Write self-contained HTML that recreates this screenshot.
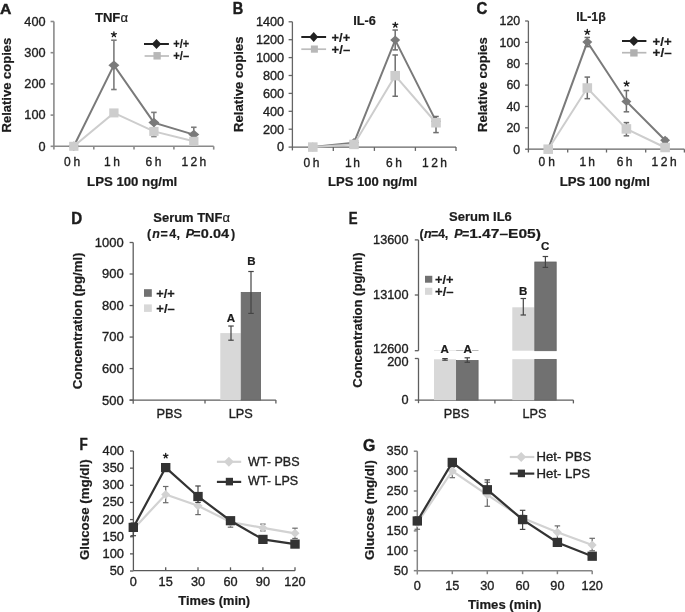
<!DOCTYPE html>
<html><head><meta charset="utf-8"><title>Figure</title>
<style>
html,body{margin:0;padding:0;background:#fff;}
body{width:685px;height:612px;overflow:hidden;}
svg{display:block;will-change:transform;filter:blur(0.6px);font-family:"Liberation Sans", sans-serif;}
</style></head>
<body>
<svg width="685" height="612" viewBox="0 0 685 612">
<rect x="0" y="0" width="685" height="612" fill="#ffffff"/>
<text x="0.1" y="13.7" font-size="15.5" font-weight="bold" fill="#1c1c1c" stroke="#1c1c1c" stroke-width="0.45" textLength="11.4" lengthAdjust="spacingAndGlyphs">A</text>
<line x1="53.9" y1="21.5" x2="53.9" y2="149.6" stroke="#8a8a8a" stroke-width="1.6"/>
<line x1="53.9" y1="146.3" x2="213.7" y2="146.3" stroke="#8a8a8a" stroke-width="1.6"/>
<line x1="93.8" y1="146.3" x2="93.8" y2="149.6" stroke="#8a8a8a" stroke-width="1.6"/>
<line x1="134" y1="146.3" x2="134" y2="149.6" stroke="#8a8a8a" stroke-width="1.6"/>
<line x1="173.9" y1="146.3" x2="173.9" y2="149.6" stroke="#8a8a8a" stroke-width="1.6"/>
<line x1="213.7" y1="146.3" x2="213.7" y2="149.6" stroke="#8a8a8a" stroke-width="1.6"/>
<line x1="50.6" y1="146.3" x2="53.9" y2="146.3" stroke="#8a8a8a" stroke-width="1.6"/>
<text x="38.53" y="150.6" font-size="12" fill="#1e1e1e" stroke="#1e1e1e" stroke-width="0.33" textLength="7.07" lengthAdjust="spacingAndGlyphs">0</text>
<line x1="50.6" y1="115.1" x2="53.9" y2="115.1" stroke="#8a8a8a" stroke-width="1.6"/>
<text x="24.38" y="119.4" font-size="12" fill="#1e1e1e" stroke="#1e1e1e" stroke-width="0.33" textLength="21.22" lengthAdjust="spacingAndGlyphs">100</text>
<line x1="50.6" y1="83.9" x2="53.9" y2="83.9" stroke="#8a8a8a" stroke-width="1.6"/>
<text x="24.38" y="88.2" font-size="12" fill="#1e1e1e" stroke="#1e1e1e" stroke-width="0.33" textLength="21.22" lengthAdjust="spacingAndGlyphs">200</text>
<line x1="50.6" y1="52.7" x2="53.9" y2="52.7" stroke="#8a8a8a" stroke-width="1.6"/>
<text x="24.38" y="57" font-size="12" fill="#1e1e1e" stroke="#1e1e1e" stroke-width="0.33" textLength="21.22" lengthAdjust="spacingAndGlyphs">300</text>
<line x1="50.6" y1="21.5" x2="53.9" y2="21.5" stroke="#8a8a8a" stroke-width="1.6"/>
<text x="24.38" y="25.8" font-size="12" fill="#1e1e1e" stroke="#1e1e1e" stroke-width="0.33" textLength="21.22" lengthAdjust="spacingAndGlyphs">400</text>
<text x="64.1" y="166" font-size="12" fill="#1e1e1e" stroke="#1e1e1e" stroke-width="0.33" textLength="16" lengthAdjust="spacing">0h</text>
<text x="104" y="166" font-size="12" fill="#1e1e1e" stroke="#1e1e1e" stroke-width="0.33" textLength="16" lengthAdjust="spacing">1h</text>
<text x="145.5" y="166" font-size="12" fill="#1e1e1e" stroke="#1e1e1e" stroke-width="0.33" textLength="16" lengthAdjust="spacing">6h</text>
<text x="181.6" y="166" font-size="12" fill="#1e1e1e" stroke="#1e1e1e" stroke-width="0.33" textLength="24.5" lengthAdjust="spacing">12h</text>
<text x="87.1" y="186.1" font-size="12" font-weight="bold" fill="#1c1c1c" stroke="#1c1c1c" stroke-width="0.2" textLength="90.2" lengthAdjust="spacingAndGlyphs">LPS 100 ng/ml</text>
<text transform="translate(10.7,132.5) rotate(-90)" x="0" y="0" font-size="12" font-weight="bold" fill="#1c1c1c" stroke="#1c1c1c" stroke-width="0.2" textLength="94.8" lengthAdjust="spacingAndGlyphs">Relative copies</text>
<text x="94.9" y="21.6" font-size="12.5" font-weight="bold" fill="#1c1c1c" stroke="#1c1c1c" stroke-width="0.2" textLength="33.1" lengthAdjust="spacingAndGlyphs">TNF<tspan font-weight="normal">α</tspan></text>
<line x1="113.9" y1="89.52" x2="113.9" y2="40.22" stroke="#7c7c7c" stroke-width="1.6"/>
<line x1="111.15" y1="89.52" x2="116.65" y2="89.52" stroke="#7c7c7c" stroke-width="1.6"/>
<line x1="111.15" y1="40.22" x2="116.65" y2="40.22" stroke="#7c7c7c" stroke-width="1.6"/>
<line x1="153.9" y1="132.26" x2="153.9" y2="112.39" stroke="#7c7c7c" stroke-width="1.6"/>
<line x1="151.15" y1="132.26" x2="156.65" y2="132.26" stroke="#7c7c7c" stroke-width="1.6"/>
<line x1="151.15" y1="112.39" x2="156.65" y2="112.39" stroke="#7c7c7c" stroke-width="1.6"/>
<line x1="193.8" y1="142.56" x2="193.8" y2="127.27" stroke="#7c7c7c" stroke-width="1.6"/>
<line x1="191.05" y1="142.56" x2="196.55" y2="142.56" stroke="#7c7c7c" stroke-width="1.6"/>
<line x1="191.05" y1="127.27" x2="196.55" y2="127.27" stroke="#7c7c7c" stroke-width="1.6"/>
<polyline points="73.8,146.3 113.9,65.18 153.9,122.59 193.8,134.6" fill="none" stroke="#7a7a7a" stroke-width="2" stroke-linejoin="miter"/>
<polygon points="68.3,146.3 73.8,141.55 79.3,146.3 73.8,151.05" fill="#7a7a7a"/>
<polygon points="108.4,65.18 113.9,60.43 119.4,65.18 113.9,69.93" fill="#7a7a7a"/>
<polygon points="148.4,122.59 153.9,117.84 159.4,122.59 153.9,127.34" fill="#7a7a7a"/>
<polygon points="188.3,134.6 193.8,129.85 199.3,134.6 193.8,139.35" fill="#7a7a7a"/>
<line x1="113.9" y1="115.1" x2="113.9" y2="111.36" stroke="#8c8c8c" stroke-width="1.4"/>
<line x1="111.15" y1="115.1" x2="116.65" y2="115.1" stroke="#8c8c8c" stroke-width="1.4"/>
<line x1="111.15" y1="111.36" x2="116.65" y2="111.36" stroke="#8c8c8c" stroke-width="1.4"/>
<line x1="153.9" y1="136.69" x2="153.9" y2="130.7" stroke="#8c8c8c" stroke-width="1.4"/>
<line x1="151.15" y1="136.69" x2="156.65" y2="136.69" stroke="#8c8c8c" stroke-width="1.4"/>
<line x1="151.15" y1="130.7" x2="156.65" y2="130.7" stroke="#8c8c8c" stroke-width="1.4"/>
<line x1="193.8" y1="143.18" x2="193.8" y2="140.68" stroke="#8c8c8c" stroke-width="1.4"/>
<line x1="191.05" y1="143.18" x2="196.55" y2="143.18" stroke="#8c8c8c" stroke-width="1.4"/>
<line x1="191.05" y1="140.68" x2="196.55" y2="140.68" stroke="#8c8c8c" stroke-width="1.4"/>
<polyline points="73.8,146.3 113.9,112.92 153.9,131.39 193.8,141.31" fill="none" stroke="#cdcdcd" stroke-width="2" stroke-linejoin="miter"/>
<rect x="69.15" y="141.8" width="9.3" height="9" fill="#cdcdcd"/>
<rect x="109.25" y="108.42" width="9.3" height="9" fill="#cdcdcd"/>
<rect x="149.25" y="126.89" width="9.3" height="9" fill="#cdcdcd"/>
<rect x="189.15" y="136.81" width="9.3" height="9" fill="#cdcdcd"/>
<path d="M113.9,34.5L113.9,31.9M113.9,34.5L116.37,33.7M113.9,34.5L115.43,36.6M113.9,34.5L112.37,36.6M113.9,34.5L111.43,33.7" stroke="#1c1c1c" stroke-width="1.35" stroke-linecap="round" fill="none"/>
<line x1="144" y1="44" x2="168.9" y2="44" stroke="#222" stroke-width="2"/>
<polygon points="151.75,44 156.5,39 161.25,44 156.5,49" fill="#222"/>
<line x1="144.6" y1="56" x2="169" y2="56" stroke="#bdbdbd" stroke-width="1.7"/>
<rect x="153.45" y="52.05" width="7.3" height="7.5" fill="#b8b8b8"/>
<text x="173.3" y="47.5" font-size="12.5" font-weight="bold" fill="#1c1c1c" stroke="#1c1c1c" stroke-width="0.2" textLength="15.9" lengthAdjust="spacingAndGlyphs">+/+</text>
<text x="173.3" y="59.5" font-size="12.5" font-weight="bold" fill="#1c1c1c" stroke="#1c1c1c" stroke-width="0.2" textLength="15.9" lengthAdjust="spacingAndGlyphs">+/–</text>
<text x="232.8" y="13.8" font-size="16" font-weight="bold" fill="#1c1c1c" stroke="#1c1c1c" stroke-width="0.45" textLength="10.5" lengthAdjust="spacingAndGlyphs">B</text>
<line x1="292.4" y1="21.8" x2="292.4" y2="150.4" stroke="#656565" stroke-width="1.3"/>
<line x1="292.4" y1="147.1" x2="456" y2="147.1" stroke="#656565" stroke-width="1.3"/>
<line x1="333.3" y1="147.1" x2="333.3" y2="150.9" stroke="#656565" stroke-width="1.3"/>
<line x1="374.4" y1="147.1" x2="374.4" y2="150.9" stroke="#656565" stroke-width="1.3"/>
<line x1="415.4" y1="147.1" x2="415.4" y2="150.9" stroke="#656565" stroke-width="1.3"/>
<line x1="456" y1="147.1" x2="456" y2="150.9" stroke="#656565" stroke-width="1.3"/>
<line x1="288.6" y1="147.1" x2="292.4" y2="147.1" stroke="#656565" stroke-width="1.3"/>
<text x="277.13" y="151.4" font-size="12" fill="#1e1e1e" stroke="#1e1e1e" stroke-width="0.33" textLength="7.07" lengthAdjust="spacingAndGlyphs">0</text>
<line x1="288.6" y1="129.2" x2="292.4" y2="129.2" stroke="#656565" stroke-width="1.3"/>
<text x="262.98" y="133.5" font-size="12" fill="#1e1e1e" stroke="#1e1e1e" stroke-width="0.33" textLength="21.22" lengthAdjust="spacingAndGlyphs">200</text>
<line x1="288.6" y1="111.3" x2="292.4" y2="111.3" stroke="#656565" stroke-width="1.3"/>
<text x="262.98" y="115.6" font-size="12" fill="#1e1e1e" stroke="#1e1e1e" stroke-width="0.33" textLength="21.22" lengthAdjust="spacingAndGlyphs">400</text>
<line x1="288.6" y1="93.4" x2="292.4" y2="93.4" stroke="#656565" stroke-width="1.3"/>
<text x="262.98" y="97.7" font-size="12" fill="#1e1e1e" stroke="#1e1e1e" stroke-width="0.33" textLength="21.22" lengthAdjust="spacingAndGlyphs">600</text>
<line x1="288.6" y1="75.5" x2="292.4" y2="75.5" stroke="#656565" stroke-width="1.3"/>
<text x="262.98" y="79.8" font-size="12" fill="#1e1e1e" stroke="#1e1e1e" stroke-width="0.33" textLength="21.22" lengthAdjust="spacingAndGlyphs">800</text>
<line x1="288.6" y1="57.6" x2="292.4" y2="57.6" stroke="#656565" stroke-width="1.3"/>
<text x="255.91" y="61.9" font-size="12" fill="#1e1e1e" stroke="#1e1e1e" stroke-width="0.33" textLength="28.29" lengthAdjust="spacingAndGlyphs">1000</text>
<line x1="288.6" y1="39.7" x2="292.4" y2="39.7" stroke="#656565" stroke-width="1.3"/>
<text x="255.91" y="44" font-size="12" fill="#1e1e1e" stroke="#1e1e1e" stroke-width="0.33" textLength="28.29" lengthAdjust="spacingAndGlyphs">1200</text>
<line x1="288.6" y1="21.8" x2="292.4" y2="21.8" stroke="#656565" stroke-width="1.3"/>
<text x="255.91" y="26.1" font-size="12" fill="#1e1e1e" stroke="#1e1e1e" stroke-width="0.33" textLength="28.29" lengthAdjust="spacingAndGlyphs">1400</text>
<text x="303.5" y="166.7" font-size="12" fill="#1e1e1e" stroke="#1e1e1e" stroke-width="0.33" textLength="16" lengthAdjust="spacing">0h</text>
<text x="345" y="166.7" font-size="12" fill="#1e1e1e" stroke="#1e1e1e" stroke-width="0.33" textLength="15" lengthAdjust="spacing">1h</text>
<text x="386" y="166.7" font-size="12" fill="#1e1e1e" stroke="#1e1e1e" stroke-width="0.33" textLength="16" lengthAdjust="spacing">6h</text>
<text x="422" y="166.7" font-size="12" fill="#1e1e1e" stroke="#1e1e1e" stroke-width="0.33" textLength="25" lengthAdjust="spacing">12h</text>
<text x="328" y="186.4" font-size="12" font-weight="bold" fill="#1c1c1c" stroke="#1c1c1c" stroke-width="0.2" textLength="89.2" lengthAdjust="spacingAndGlyphs">LPS 100 ng/ml</text>
<text transform="translate(242.5,131.9) rotate(-90)" x="0" y="0" font-size="12" font-weight="bold" fill="#1c1c1c" stroke="#1c1c1c" stroke-width="0.2" textLength="95.5" lengthAdjust="spacingAndGlyphs">Relative copies</text>
<text x="353.2" y="24.6" font-size="12.5" font-weight="bold" fill="#1c1c1c" stroke="#1c1c1c" stroke-width="0.2" textLength="22.7" lengthAdjust="spacingAndGlyphs">IL-6</text>
<line x1="395.2" y1="49.9" x2="395.2" y2="30.03" stroke="#6e6e6e" stroke-width="1.5"/>
<line x1="392.45" y1="49.9" x2="397.95" y2="49.9" stroke="#6e6e6e" stroke-width="1.5"/>
<line x1="392.45" y1="30.03" x2="397.95" y2="30.03" stroke="#6e6e6e" stroke-width="1.5"/>
<polyline points="312.8,147.1 354,142.62 395.2,40.06 436,121.14" fill="none" stroke="#7a7a7a" stroke-width="2" stroke-linejoin="miter"/>
<polygon points="307.8,147.1 312.8,142.6 317.8,147.1 312.8,151.6" fill="#7a7a7a"/>
<polygon points="349,142.62 354,138.12 359,142.62 354,147.12" fill="#7a7a7a"/>
<polygon points="390.2,40.06 395.2,35.56 400.2,40.06 395.2,44.56" fill="#7a7a7a"/>
<polygon points="431,121.14 436,116.64 441,121.14 436,125.64" fill="#7a7a7a"/>
<line x1="395.2" y1="96.26" x2="395.2" y2="55" stroke="#6e6e6e" stroke-width="1.5"/>
<line x1="392.45" y1="96.26" x2="397.95" y2="96.26" stroke="#6e6e6e" stroke-width="1.5"/>
<line x1="392.45" y1="55" x2="397.95" y2="55" stroke="#6e6e6e" stroke-width="1.5"/>
<line x1="436" y1="132.6" x2="436" y2="116.49" stroke="#6e6e6e" stroke-width="1.5"/>
<line x1="433.25" y1="132.6" x2="438.75" y2="132.6" stroke="#6e6e6e" stroke-width="1.5"/>
<line x1="433.25" y1="116.49" x2="438.75" y2="116.49" stroke="#6e6e6e" stroke-width="1.5"/>
<polyline points="312.8,147.1 354,144.41 395.2,75.68 436,122.76" fill="none" stroke="#cdcdcd" stroke-width="2" stroke-linejoin="miter"/>
<rect x="308" y="142.35" width="9.6" height="9.5" fill="#cdcdcd"/>
<rect x="349.2" y="139.66" width="9.6" height="9.5" fill="#cdcdcd"/>
<rect x="390.4" y="70.93" width="9.6" height="9.5" fill="#cdcdcd"/>
<rect x="431.2" y="118.01" width="9.6" height="9.5" fill="#cdcdcd"/>
<path d="M395.3,25L395.3,22.4M395.3,25L397.77,24.2M395.3,25L396.83,27.1M395.3,25L393.77,27.1M395.3,25L392.83,24.2" stroke="#1c1c1c" stroke-width="1.35" stroke-linecap="round" fill="none"/>
<line x1="301.3" y1="37" x2="326.1" y2="37" stroke="#222" stroke-width="2"/>
<polygon points="309.2,37 313.7,32 318.2,37 313.7,42" fill="#222"/>
<line x1="301.3" y1="49.2" x2="326.1" y2="49.2" stroke="#bdbdbd" stroke-width="1.7"/>
<rect x="310.9" y="45.5" width="7" height="7.2" fill="#b8b8b8"/>
<text x="331.6" y="41.6" font-size="13" font-weight="bold" fill="#1c1c1c" stroke="#1c1c1c" stroke-width="0.2" textLength="18.6" lengthAdjust="spacingAndGlyphs">+/+</text>
<text x="331.6" y="53.6" font-size="13" font-weight="bold" fill="#1c1c1c" stroke="#1c1c1c" stroke-width="0.2" textLength="18.6" lengthAdjust="spacingAndGlyphs">+/–</text>
<text x="476.6" y="13.8" font-size="16" font-weight="bold" fill="#1c1c1c" stroke="#1c1c1c" stroke-width="0.45" textLength="10.8" lengthAdjust="spacingAndGlyphs">C</text>
<line x1="528.4" y1="21" x2="528.4" y2="152.5" stroke="#656565" stroke-width="1.3"/>
<line x1="528.4" y1="149.2" x2="684.4" y2="149.2" stroke="#656565" stroke-width="1.3"/>
<line x1="567.7" y1="149.2" x2="567.7" y2="152.5" stroke="#656565" stroke-width="1.3"/>
<line x1="606.5" y1="149.2" x2="606.5" y2="152.5" stroke="#656565" stroke-width="1.3"/>
<line x1="645.7" y1="149.2" x2="645.7" y2="152.5" stroke="#656565" stroke-width="1.3"/>
<line x1="684.4" y1="149.2" x2="684.4" y2="152.5" stroke="#656565" stroke-width="1.3"/>
<line x1="525.1" y1="149.2" x2="528.4" y2="149.2" stroke="#656565" stroke-width="1.3"/>
<text x="513.33" y="153.5" font-size="12" fill="#1e1e1e" stroke="#1e1e1e" stroke-width="0.33" textLength="6.87" lengthAdjust="spacingAndGlyphs">0</text>
<line x1="525.1" y1="127.83" x2="528.4" y2="127.83" stroke="#656565" stroke-width="1.3"/>
<text x="506.45" y="132.13" font-size="12" fill="#1e1e1e" stroke="#1e1e1e" stroke-width="0.33" textLength="13.75" lengthAdjust="spacingAndGlyphs">20</text>
<line x1="525.1" y1="106.47" x2="528.4" y2="106.47" stroke="#656565" stroke-width="1.3"/>
<text x="506.45" y="110.77" font-size="12" fill="#1e1e1e" stroke="#1e1e1e" stroke-width="0.33" textLength="13.75" lengthAdjust="spacingAndGlyphs">40</text>
<line x1="525.1" y1="85.1" x2="528.4" y2="85.1" stroke="#656565" stroke-width="1.3"/>
<text x="506.45" y="89.4" font-size="12" fill="#1e1e1e" stroke="#1e1e1e" stroke-width="0.33" textLength="13.75" lengthAdjust="spacingAndGlyphs">60</text>
<line x1="525.1" y1="63.74" x2="528.4" y2="63.74" stroke="#656565" stroke-width="1.3"/>
<text x="506.45" y="68.04" font-size="12" fill="#1e1e1e" stroke="#1e1e1e" stroke-width="0.33" textLength="13.75" lengthAdjust="spacingAndGlyphs">80</text>
<line x1="525.1" y1="42.37" x2="528.4" y2="42.37" stroke="#656565" stroke-width="1.3"/>
<text x="499.58" y="46.67" font-size="12" fill="#1e1e1e" stroke="#1e1e1e" stroke-width="0.33" textLength="20.62" lengthAdjust="spacingAndGlyphs">100</text>
<line x1="525.1" y1="21" x2="528.4" y2="21" stroke="#656565" stroke-width="1.3"/>
<text x="499.58" y="25.3" font-size="12" fill="#1e1e1e" stroke="#1e1e1e" stroke-width="0.33" textLength="20.62" lengthAdjust="spacingAndGlyphs">120</text>
<text x="538.5" y="165.9" font-size="12" fill="#1e1e1e" stroke="#1e1e1e" stroke-width="0.33" textLength="16.5" lengthAdjust="spacing">0h</text>
<text x="579.5" y="165.9" font-size="12" fill="#1e1e1e" stroke="#1e1e1e" stroke-width="0.33" textLength="15.5" lengthAdjust="spacing">1h</text>
<text x="616.8" y="165.9" font-size="12" fill="#1e1e1e" stroke="#1e1e1e" stroke-width="0.33" textLength="15.7" lengthAdjust="spacing">6h</text>
<text x="651.5" y="165.9" font-size="12" fill="#1e1e1e" stroke="#1e1e1e" stroke-width="0.33" textLength="25.3" lengthAdjust="spacing">12h</text>
<text x="559.7" y="186.2" font-size="12" font-weight="bold" fill="#1c1c1c" stroke="#1c1c1c" stroke-width="0.2" textLength="90.3" lengthAdjust="spacingAndGlyphs">LPS 100 ng/ml</text>
<text transform="translate(486.6,131.9) rotate(-90)" x="0" y="0" font-size="12" font-weight="bold" fill="#1c1c1c" stroke="#1c1c1c" stroke-width="0.2" textLength="94.7" lengthAdjust="spacingAndGlyphs">Relative copies</text>
<text x="576.2" y="21.3" font-size="12.5" font-weight="bold" fill="#1c1c1c" stroke="#1c1c1c" stroke-width="0.2" textLength="29.6" lengthAdjust="spacingAndGlyphs">IL-1β</text>
<line x1="587.3" y1="46.64" x2="587.3" y2="37.46" stroke="#6e6e6e" stroke-width="1.5"/>
<line x1="584.55" y1="46.64" x2="590.05" y2="46.64" stroke="#6e6e6e" stroke-width="1.5"/>
<line x1="584.55" y1="37.46" x2="590.05" y2="37.46" stroke="#6e6e6e" stroke-width="1.5"/>
<line x1="626.4" y1="111.81" x2="626.4" y2="90.55" stroke="#6e6e6e" stroke-width="1.5"/>
<line x1="623.65" y1="111.81" x2="629.15" y2="111.81" stroke="#6e6e6e" stroke-width="1.5"/>
<line x1="623.65" y1="90.55" x2="629.15" y2="90.55" stroke="#6e6e6e" stroke-width="1.5"/>
<line x1="665.1" y1="142.79" x2="665.1" y2="138.52" stroke="#6e6e6e" stroke-width="1.5"/>
<line x1="662.35" y1="142.79" x2="667.85" y2="142.79" stroke="#6e6e6e" stroke-width="1.5"/>
<line x1="662.35" y1="138.52" x2="667.85" y2="138.52" stroke="#6e6e6e" stroke-width="1.5"/>
<polyline points="548.2,149.2 587.3,42.05 626.4,101.45 665.1,140.33" fill="none" stroke="#7a7a7a" stroke-width="2" stroke-linejoin="miter"/>
<polygon points="543.2,149.2 548.2,144.7 553.2,149.2 548.2,153.7" fill="#7a7a7a"/>
<polygon points="582.3,42.05 587.3,37.55 592.3,42.05 587.3,46.55" fill="#7a7a7a"/>
<polygon points="621.4,101.45 626.4,96.95 631.4,101.45 626.4,105.95" fill="#7a7a7a"/>
<polygon points="660.1,140.33 665.1,135.83 670.1,140.33 665.1,144.83" fill="#7a7a7a"/>
<line x1="587.3" y1="98.67" x2="587.3" y2="77.09" stroke="#6e6e6e" stroke-width="1.5"/>
<line x1="584.55" y1="98.67" x2="590.05" y2="98.67" stroke="#6e6e6e" stroke-width="1.5"/>
<line x1="584.55" y1="77.09" x2="590.05" y2="77.09" stroke="#6e6e6e" stroke-width="1.5"/>
<line x1="626.4" y1="135.85" x2="626.4" y2="122.6" stroke="#6e6e6e" stroke-width="1.5"/>
<line x1="623.65" y1="135.85" x2="629.15" y2="135.85" stroke="#6e6e6e" stroke-width="1.5"/>
<line x1="623.65" y1="122.6" x2="629.15" y2="122.6" stroke="#6e6e6e" stroke-width="1.5"/>
<polyline points="548.2,149.2 587.3,87.99 626.4,128.9 665.1,147.49" fill="none" stroke="#cdcdcd" stroke-width="2" stroke-linejoin="miter"/>
<rect x="543.4" y="144.45" width="9.6" height="9.5" fill="#cdcdcd"/>
<rect x="582.5" y="83.24" width="9.6" height="9.5" fill="#cdcdcd"/>
<rect x="621.6" y="124.15" width="9.6" height="9.5" fill="#cdcdcd"/>
<rect x="660.3" y="142.74" width="9.6" height="9.5" fill="#cdcdcd"/>
<path d="M587.3,32.1L587.3,29.5M587.3,32.1L589.77,31.3M587.3,32.1L588.83,34.2M587.3,32.1L585.77,34.2M587.3,32.1L584.83,31.3" stroke="#1c1c1c" stroke-width="1.35" stroke-linecap="round" fill="none"/>
<path d="M626.6,83.8L626.6,81.2M626.6,83.8L629.07,83M626.6,83.8L628.13,85.9M626.6,83.8L625.07,85.9M626.6,83.8L624.13,83" stroke="#1c1c1c" stroke-width="1.35" stroke-linecap="round" fill="none"/>
<line x1="622" y1="41" x2="646.4" y2="41" stroke="#222" stroke-width="2"/>
<polygon points="628.8,41 633.8,36 638.8,41 633.8,46" fill="#222"/>
<line x1="622" y1="52.7" x2="646.4" y2="52.7" stroke="#b8b8b8" stroke-width="1.7"/>
<rect x="630.2" y="49.25" width="7.4" height="7.3" fill="#b0b0b0"/>
<text x="652.6" y="45.6" font-size="13" font-weight="bold" fill="#1c1c1c" stroke="#1c1c1c" stroke-width="0.2" textLength="19" lengthAdjust="spacingAndGlyphs">+/+</text>
<text x="652.6" y="57.3" font-size="13" font-weight="bold" fill="#1c1c1c" stroke="#1c1c1c" stroke-width="0.2" textLength="19" lengthAdjust="spacingAndGlyphs">+/–</text>
<text x="71.2" y="223.5" font-size="16" font-weight="bold" fill="#1c1c1c" stroke="#1c1c1c" stroke-width="0.45" textLength="10.9" lengthAdjust="spacingAndGlyphs">D</text>
<line x1="133.2" y1="242.5" x2="133.2" y2="403.8" stroke="#5e5e5e" stroke-width="1.3"/>
<line x1="129.6" y1="400.1" x2="275.9" y2="400.1" stroke="#5e5e5e" stroke-width="1.3"/>
<line x1="205" y1="400.1" x2="205" y2="403.4" stroke="#5e5e5e" stroke-width="1.3"/>
<line x1="275.9" y1="400.1" x2="275.9" y2="403.4" stroke="#5e5e5e" stroke-width="1.3"/>
<line x1="129.6" y1="400.1" x2="133.2" y2="400.1" stroke="#5e5e5e" stroke-width="1.3"/>
<text x="102.08" y="404.5" font-size="12" fill="#1e1e1e" stroke="#1e1e1e" stroke-width="0.33" textLength="21.62" lengthAdjust="spacingAndGlyphs">500</text>
<line x1="129.6" y1="368.58" x2="133.2" y2="368.58" stroke="#5e5e5e" stroke-width="1.3"/>
<text x="102.08" y="372.98" font-size="12" fill="#1e1e1e" stroke="#1e1e1e" stroke-width="0.33" textLength="21.62" lengthAdjust="spacingAndGlyphs">600</text>
<line x1="129.6" y1="337.06" x2="133.2" y2="337.06" stroke="#5e5e5e" stroke-width="1.3"/>
<text x="102.08" y="341.46" font-size="12" fill="#1e1e1e" stroke="#1e1e1e" stroke-width="0.33" textLength="21.62" lengthAdjust="spacingAndGlyphs">700</text>
<line x1="129.6" y1="305.54" x2="133.2" y2="305.54" stroke="#5e5e5e" stroke-width="1.3"/>
<text x="102.08" y="309.94" font-size="12" fill="#1e1e1e" stroke="#1e1e1e" stroke-width="0.33" textLength="21.62" lengthAdjust="spacingAndGlyphs">800</text>
<line x1="129.6" y1="274.02" x2="133.2" y2="274.02" stroke="#5e5e5e" stroke-width="1.3"/>
<text x="102.08" y="278.42" font-size="12" fill="#1e1e1e" stroke="#1e1e1e" stroke-width="0.33" textLength="21.62" lengthAdjust="spacingAndGlyphs">900</text>
<line x1="129.6" y1="242.5" x2="133.2" y2="242.5" stroke="#5e5e5e" stroke-width="1.3"/>
<text x="94.87" y="246.9" font-size="12" fill="#1e1e1e" stroke="#1e1e1e" stroke-width="0.33" textLength="28.83" lengthAdjust="spacingAndGlyphs">1000</text>
<rect x="220.3" y="333.09" width="20.5" height="67.01" fill="#d8d8d8"/>
<rect x="241.2" y="292.4" width="19.4" height="107.7" fill="#717171" stroke="#646464" stroke-width="0.8"/>
<line x1="231" y1="340.21" x2="231" y2="326.03" stroke="#444" stroke-width="1.2"/>
<line x1="228.25" y1="340.21" x2="233.75" y2="340.21" stroke="#444" stroke-width="1.2"/>
<line x1="228.25" y1="326.03" x2="233.75" y2="326.03" stroke="#444" stroke-width="1.2"/>
<line x1="251" y1="313.42" x2="251" y2="271.5" stroke="#444" stroke-width="1.2"/>
<line x1="248.25" y1="313.42" x2="253.75" y2="313.42" stroke="#444" stroke-width="1.2"/>
<line x1="248.25" y1="271.5" x2="253.75" y2="271.5" stroke="#444" stroke-width="1.2"/>
<text x="226.83" y="321.5" font-size="10.5" font-weight="bold" fill="#1c1c1c" stroke="#1c1c1c" stroke-width="0.2" textLength="8.34" lengthAdjust="spacingAndGlyphs">A</text>
<text x="247.23" y="265.4" font-size="10.5" font-weight="bold" fill="#1c1c1c" stroke="#1c1c1c" stroke-width="0.2" textLength="8.34" lengthAdjust="spacingAndGlyphs">B</text>
<text x="153.3" y="221.5" font-size="12.5" font-weight="bold" fill="#1c1c1c" stroke="#1c1c1c" stroke-width="0.2" textLength="76.6" lengthAdjust="spacingAndGlyphs">Serum TNF<tspan font-weight="normal">α</tspan></text>
<text x="147.12" y="237.8" font-size="12.5" font-weight="bold" fill="#1c1c1c" stroke="#1c1c1c" stroke-width="0.2">(</text>
<text x="152.36" y="237.8" font-size="12.5" font-weight="bold" font-style="italic" fill="#1c1c1c" stroke="#1c1c1c" stroke-width="0.2">n</text>
<text x="160.47" y="237.8" font-size="12.5" font-weight="bold" fill="#1c1c1c" stroke="#1c1c1c" stroke-width="0.2">=</text>
<text x="169.29" y="237.8" font-size="12.5" font-weight="bold" fill="#1c1c1c" stroke="#1c1c1c" stroke-width="0.2">4</text>
<text x="176.55" y="237.8" font-size="12.5" font-weight="bold" fill="#1c1c1c" stroke="#1c1c1c" stroke-width="0.2">,</text>
<text x="185.69" y="237.8" font-size="12.5" font-weight="bold" font-style="italic" fill="#1c1c1c" stroke="#1c1c1c" stroke-width="0.2">P</text>
<text x="193.32" y="237.8" font-size="12.5" font-weight="bold" fill="#1c1c1c" stroke="#1c1c1c" stroke-width="0.2">=</text>
<text x="200.82" y="237.8" font-size="12.5" font-weight="bold" fill="#1c1c1c" stroke="#1c1c1c" stroke-width="0.2" textLength="28.27" lengthAdjust="spacingAndGlyphs">0.04</text>
<text x="230.95" y="237.8" font-size="12.5" font-weight="bold" fill="#1c1c1c" stroke="#1c1c1c" stroke-width="0.2">)</text>
<rect x="144" y="289.2" width="7.8" height="7.6" fill="#717171"/>
<rect x="144" y="304.4" width="7.8" height="7.5" fill="#d8d8d8"/>
<text x="156.3" y="297.5" font-size="13.5" font-weight="bold" fill="#1c1c1c" stroke="#1c1c1c" stroke-width="0.2" textLength="18.5" lengthAdjust="spacingAndGlyphs">+/+</text>
<text x="156.3" y="312.5" font-size="13.5" font-weight="bold" fill="#1c1c1c" stroke="#1c1c1c" stroke-width="0.2" textLength="18.5" lengthAdjust="spacingAndGlyphs">+/–</text>
<text x="156.4" y="417.7" font-size="12.3" fill="#1e1e1e" stroke="#1e1e1e" stroke-width="0.33" textLength="25.7" lengthAdjust="spacingAndGlyphs">PBS</text>
<text x="228.7" y="417.7" font-size="12.3" fill="#1e1e1e" stroke="#1e1e1e" stroke-width="0.33" textLength="24.1" lengthAdjust="spacingAndGlyphs">LPS</text>
<text transform="translate(82.2,389.3) rotate(-90)" x="0" y="0" font-size="12.5" font-weight="bold" fill="#1c1c1c" stroke="#1c1c1c" stroke-width="0.2" textLength="136.8" lengthAdjust="spacingAndGlyphs">Concentration (pg/ml)</text>
<text x="348.8" y="223.5" font-size="16" font-weight="bold" fill="#1c1c1c" stroke="#1c1c1c" stroke-width="0.45" textLength="8.8" lengthAdjust="spacingAndGlyphs">E</text>
<line x1="418.5" y1="239.9" x2="418.5" y2="350.7" stroke="#5e5e5e" stroke-width="1.3"/>
<line x1="418.5" y1="358.5" x2="418.5" y2="403.2" stroke="#5e5e5e" stroke-width="1.3"/>
<line x1="418.5" y1="400.1" x2="573.4" y2="400.1" stroke="#5e5e5e" stroke-width="1.3"/>
<line x1="494.9" y1="400.1" x2="494.9" y2="403.4" stroke="#5e5e5e" stroke-width="1.3"/>
<line x1="573.4" y1="400.1" x2="573.4" y2="403.4" stroke="#5e5e5e" stroke-width="1.3"/>
<line x1="414.8" y1="239.9" x2="418.5" y2="239.9" stroke="#5e5e5e" stroke-width="1.3"/>
<line x1="414.8" y1="295" x2="418.5" y2="295" stroke="#5e5e5e" stroke-width="1.3"/>
<line x1="414.8" y1="350.7" x2="418.5" y2="350.7" stroke="#5e5e5e" stroke-width="1.3"/>
<line x1="414.8" y1="358.5" x2="418.5" y2="358.5" stroke="#5e5e5e" stroke-width="1.3"/>
<line x1="414.8" y1="400.1" x2="418.5" y2="400.1" stroke="#5e5e5e" stroke-width="1.3"/>
<text x="373.13" y="243.9" font-size="12" fill="#1e1e1e" stroke="#1e1e1e" stroke-width="0.33" textLength="35.37" lengthAdjust="spacingAndGlyphs">13600</text>
<text x="373.13" y="299" font-size="12" fill="#1e1e1e" stroke="#1e1e1e" stroke-width="0.33" textLength="35.37" lengthAdjust="spacingAndGlyphs">13100</text>
<text x="373.13" y="353.3" font-size="12" fill="#1e1e1e" stroke="#1e1e1e" stroke-width="0.33" textLength="35.37" lengthAdjust="spacingAndGlyphs">12600</text>
<text x="387.28" y="365.6" font-size="12" fill="#1e1e1e" stroke="#1e1e1e" stroke-width="0.33" textLength="21.22" lengthAdjust="spacingAndGlyphs">200</text>
<text x="401.43" y="404.2" font-size="12" fill="#1e1e1e" stroke="#1e1e1e" stroke-width="0.33" textLength="7.07" lengthAdjust="spacingAndGlyphs">0</text>
<rect x="434" y="350.1" width="22.1" height="0.8" fill="#e4e4e4"/>
<rect x="456.1" y="350.1" width="22.4" height="0.8" fill="#a8a8a8"/>
<rect x="434" y="359.3" width="22.1" height="40.8" fill="#d8d8d8"/>
<rect x="456.5" y="360.5" width="21.6" height="39.6" fill="#717171" stroke="#646464" stroke-width="0.8"/>
<rect x="512.3" y="359.2" width="22.1" height="40.9" fill="#d8d8d8"/>
<rect x="534.8" y="359.4" width="21.4" height="40.7" fill="#717171" stroke="#646464" stroke-width="0.8"/>
<rect x="512.3" y="307.3" width="22.1" height="43.4" fill="#d8d8d8"/>
<rect x="534.8" y="262" width="21.4" height="88.7" fill="#717171" stroke="#646464" stroke-width="0.8"/>
<line x1="445" y1="358.6" x2="445" y2="360.2" stroke="#444" stroke-width="1.2"/>
<line x1="442.25" y1="358.6" x2="447.75" y2="358.6" stroke="#444" stroke-width="1.2"/>
<line x1="442.25" y1="360.2" x2="447.75" y2="360.2" stroke="#444" stroke-width="1.2"/>
<line x1="467.3" y1="357.8" x2="467.3" y2="362.3" stroke="#444" stroke-width="1.2"/>
<line x1="464.55" y1="357.8" x2="470.05" y2="357.8" stroke="#444" stroke-width="1.2"/>
<line x1="464.55" y1="362.3" x2="470.05" y2="362.3" stroke="#444" stroke-width="1.2"/>
<line x1="523.3" y1="298.5" x2="523.3" y2="315" stroke="#444" stroke-width="1.2"/>
<line x1="520.55" y1="298.5" x2="526.05" y2="298.5" stroke="#444" stroke-width="1.2"/>
<line x1="520.55" y1="315" x2="526.05" y2="315" stroke="#444" stroke-width="1.2"/>
<line x1="545.4" y1="256.5" x2="545.4" y2="267.4" stroke="#444" stroke-width="1.2"/>
<line x1="542.65" y1="256.5" x2="548.15" y2="256.5" stroke="#444" stroke-width="1.2"/>
<line x1="542.65" y1="267.4" x2="548.15" y2="267.4" stroke="#444" stroke-width="1.2"/>
<rect x="440.6" y="345" width="8.4" height="9" fill="#ffffff"/>
<text x="440.63" y="353.1" font-size="10.5" font-weight="bold" fill="#1c1c1c" stroke="#1c1c1c" stroke-width="0.2" textLength="8.34" lengthAdjust="spacingAndGlyphs">A</text>
<rect x="463.5" y="345" width="8.4" height="9" fill="#ffffff"/>
<text x="463.53" y="353.1" font-size="10.5" font-weight="bold" fill="#1c1c1c" stroke="#1c1c1c" stroke-width="0.2" textLength="8.34" lengthAdjust="spacingAndGlyphs">A</text>
<text x="519.03" y="294.8" font-size="10.5" font-weight="bold" fill="#1c1c1c" stroke="#1c1c1c" stroke-width="0.2" textLength="8.34" lengthAdjust="spacingAndGlyphs">B</text>
<text x="540.93" y="250.4" font-size="10.5" font-weight="bold" fill="#1c1c1c" stroke="#1c1c1c" stroke-width="0.2" textLength="8.34" lengthAdjust="spacingAndGlyphs">C</text>
<text x="449" y="221.2" font-size="12.5" font-weight="bold" fill="#1c1c1c" stroke="#1c1c1c" stroke-width="0.2" textLength="62.8" lengthAdjust="spacingAndGlyphs">Serum IL6</text>
<text x="419.52" y="237.9" font-size="12.5" font-weight="bold" fill="#1c1c1c" stroke="#1c1c1c" stroke-width="0.2">(</text>
<text x="424.11" y="237.9" font-size="12.5" font-weight="bold" font-style="italic" fill="#1c1c1c" stroke="#1c1c1c" stroke-width="0.2">n</text>
<text x="430.98" y="237.9" font-size="12.5" font-weight="bold" fill="#1c1c1c" stroke="#1c1c1c" stroke-width="0.2">=</text>
<text x="437.99" y="237.9" font-size="12.5" font-weight="bold" fill="#1c1c1c" stroke="#1c1c1c" stroke-width="0.2">4</text>
<text x="444.75" y="237.9" font-size="12.5" font-weight="bold" fill="#1c1c1c" stroke="#1c1c1c" stroke-width="0.2">,</text>
<text x="454.14" y="237.9" font-size="12.5" font-weight="bold" font-style="italic" fill="#1c1c1c" stroke="#1c1c1c" stroke-width="0.2">P</text>
<text x="461.88" y="237.9" font-size="12.5" font-weight="bold" fill="#1c1c1c" stroke="#1c1c1c" stroke-width="0.2">=</text>
<text x="469.17" y="237.9" font-size="12.5" font-weight="bold" fill="#1c1c1c" stroke="#1c1c1c" stroke-width="0.2" textLength="71.78" lengthAdjust="spacingAndGlyphs">1.47–E05)</text>
<rect x="425" y="275.8" width="7.3" height="6.9" fill="#717171"/>
<rect x="425" y="287.8" width="7.3" height="7" fill="#d8d8d8"/>
<text x="435.1" y="284" font-size="13" font-weight="bold" fill="#1c1c1c" stroke="#1c1c1c" stroke-width="0.2" textLength="18.5" lengthAdjust="spacingAndGlyphs">+/+</text>
<text x="435.1" y="296" font-size="13" font-weight="bold" fill="#1c1c1c" stroke="#1c1c1c" stroke-width="0.2" textLength="18.5" lengthAdjust="spacingAndGlyphs">+/–</text>
<text x="443.8" y="417.7" font-size="12.3" fill="#1e1e1e" stroke="#1e1e1e" stroke-width="0.33" textLength="25.5" lengthAdjust="spacingAndGlyphs">PBS</text>
<text x="522.5" y="417.7" font-size="12.3" fill="#1e1e1e" stroke="#1e1e1e" stroke-width="0.33" textLength="23.9" lengthAdjust="spacingAndGlyphs">LPS</text>
<text transform="translate(361.8,387.7) rotate(-90)" x="0" y="0" font-size="12.5" font-weight="bold" fill="#1c1c1c" stroke="#1c1c1c" stroke-width="0.2" textLength="135.2" lengthAdjust="spacingAndGlyphs">Concentration (pg/ml)</text>
<text x="79.4" y="449.9" font-size="16" font-weight="bold" fill="#1c1c1c" stroke="#1c1c1c" stroke-width="0.45" textLength="8.2" lengthAdjust="spacingAndGlyphs">F</text>
<line x1="133.4" y1="451" x2="133.4" y2="570.7" stroke="#585858" stroke-width="1.3"/>
<line x1="133.4" y1="570.7" x2="295" y2="570.7" stroke="#585858" stroke-width="1.3"/>
<line x1="165.7" y1="570.7" x2="165.7" y2="567.3" stroke="#585858" stroke-width="1.3"/>
<line x1="198" y1="570.7" x2="198" y2="567.3" stroke="#585858" stroke-width="1.3"/>
<line x1="230.5" y1="570.7" x2="230.5" y2="567.3" stroke="#585858" stroke-width="1.3"/>
<line x1="262.9" y1="570.7" x2="262.9" y2="567.3" stroke="#585858" stroke-width="1.3"/>
<line x1="295" y1="570.7" x2="295" y2="567.3" stroke="#585858" stroke-width="1.3"/>
<line x1="130" y1="571.01" x2="133.4" y2="571.01" stroke="#585858" stroke-width="1.3"/>
<text x="109.68" y="575.01" font-size="12.5" fill="#1e1e1e" stroke="#1e1e1e" stroke-width="0.33" textLength="14.32" lengthAdjust="spacingAndGlyphs">50</text>
<line x1="130" y1="553.87" x2="133.4" y2="553.87" stroke="#585858" stroke-width="1.3"/>
<text x="102.52" y="557.87" font-size="12.5" fill="#1e1e1e" stroke="#1e1e1e" stroke-width="0.33" textLength="21.48" lengthAdjust="spacingAndGlyphs">100</text>
<line x1="130" y1="536.73" x2="133.4" y2="536.73" stroke="#585858" stroke-width="1.3"/>
<text x="102.52" y="540.73" font-size="12.5" fill="#1e1e1e" stroke="#1e1e1e" stroke-width="0.33" textLength="21.48" lengthAdjust="spacingAndGlyphs">150</text>
<line x1="130" y1="519.58" x2="133.4" y2="519.58" stroke="#585858" stroke-width="1.3"/>
<text x="102.52" y="523.58" font-size="12.5" fill="#1e1e1e" stroke="#1e1e1e" stroke-width="0.33" textLength="21.48" lengthAdjust="spacingAndGlyphs">200</text>
<line x1="130" y1="502.44" x2="133.4" y2="502.44" stroke="#585858" stroke-width="1.3"/>
<text x="102.52" y="506.44" font-size="12.5" fill="#1e1e1e" stroke="#1e1e1e" stroke-width="0.33" textLength="21.48" lengthAdjust="spacingAndGlyphs">250</text>
<line x1="130" y1="485.29" x2="133.4" y2="485.29" stroke="#585858" stroke-width="1.3"/>
<text x="102.52" y="489.29" font-size="12.5" fill="#1e1e1e" stroke="#1e1e1e" stroke-width="0.33" textLength="21.48" lengthAdjust="spacingAndGlyphs">300</text>
<line x1="130" y1="468.14" x2="133.4" y2="468.14" stroke="#585858" stroke-width="1.3"/>
<text x="102.52" y="472.14" font-size="12.5" fill="#1e1e1e" stroke="#1e1e1e" stroke-width="0.33" textLength="21.48" lengthAdjust="spacingAndGlyphs">350</text>
<line x1="130" y1="451" x2="133.4" y2="451" stroke="#585858" stroke-width="1.3"/>
<text x="102.52" y="455" font-size="12.5" fill="#1e1e1e" stroke="#1e1e1e" stroke-width="0.33" textLength="21.48" lengthAdjust="spacingAndGlyphs">400</text>
<text x="129.76" y="585.6" font-size="12" fill="#1e1e1e" stroke="#1e1e1e" stroke-width="0.33" textLength="7.07" lengthAdjust="spacingAndGlyphs">0</text>
<text x="158.63" y="585.6" font-size="12" fill="#1e1e1e" stroke="#1e1e1e" stroke-width="0.33" textLength="14.15" lengthAdjust="spacingAndGlyphs">15</text>
<text x="190.93" y="585.6" font-size="12" fill="#1e1e1e" stroke="#1e1e1e" stroke-width="0.33" textLength="14.15" lengthAdjust="spacingAndGlyphs">30</text>
<text x="223.43" y="585.6" font-size="12" fill="#1e1e1e" stroke="#1e1e1e" stroke-width="0.33" textLength="14.15" lengthAdjust="spacingAndGlyphs">60</text>
<text x="255.83" y="585.6" font-size="12" fill="#1e1e1e" stroke="#1e1e1e" stroke-width="0.33" textLength="14.15" lengthAdjust="spacingAndGlyphs">90</text>
<text x="284.39" y="585.6" font-size="12" fill="#1e1e1e" stroke="#1e1e1e" stroke-width="0.33" textLength="21.22" lengthAdjust="spacingAndGlyphs">120</text>
<text x="178.3" y="604.8" font-size="12" font-weight="bold" fill="#1c1c1c" stroke="#1c1c1c" stroke-width="0.2" textLength="71.8" lengthAdjust="spacingAndGlyphs">Times (min)</text>
<text transform="translate(89.4,560) rotate(-90)" x="0" y="0" font-size="12.5" font-weight="bold" fill="#1c1c1c" stroke="#1c1c1c" stroke-width="0.2" textLength="100.6" lengthAdjust="spacingAndGlyphs">Glucose (mg/dl)</text>
<line x1="165.7" y1="502.71" x2="165.7" y2="486.49" stroke="#6a6a6a" stroke-width="1.2"/>
<line x1="162.95" y1="502.71" x2="168.45" y2="502.71" stroke="#6a6a6a" stroke-width="1.2"/>
<line x1="162.95" y1="486.49" x2="168.45" y2="486.49" stroke="#6a6a6a" stroke-width="1.2"/>
<line x1="198" y1="514.61" x2="198" y2="498.32" stroke="#6a6a6a" stroke-width="1.2"/>
<line x1="195.25" y1="514.61" x2="200.75" y2="514.61" stroke="#6a6a6a" stroke-width="1.2"/>
<line x1="195.25" y1="498.32" x2="200.75" y2="498.32" stroke="#6a6a6a" stroke-width="1.2"/>
<line x1="230.5" y1="527.19" x2="230.5" y2="517.87" stroke="#6a6a6a" stroke-width="1.2"/>
<line x1="227.75" y1="527.19" x2="233.25" y2="527.19" stroke="#6a6a6a" stroke-width="1.2"/>
<line x1="227.75" y1="517.87" x2="233.25" y2="517.87" stroke="#6a6a6a" stroke-width="1.2"/>
<line x1="262.9" y1="530.9" x2="262.9" y2="524.11" stroke="#6a6a6a" stroke-width="1.2"/>
<line x1="260.15" y1="530.9" x2="265.65" y2="530.9" stroke="#6a6a6a" stroke-width="1.2"/>
<line x1="260.15" y1="524.11" x2="265.65" y2="524.11" stroke="#6a6a6a" stroke-width="1.2"/>
<line x1="295" y1="538.44" x2="295" y2="528.19" stroke="#6a6a6a" stroke-width="1.2"/>
<line x1="292.25" y1="538.44" x2="297.75" y2="538.44" stroke="#6a6a6a" stroke-width="1.2"/>
<line x1="292.25" y1="528.19" x2="297.75" y2="528.19" stroke="#6a6a6a" stroke-width="1.2"/>
<polyline points="133.3,529.18 165.7,494.41 198,505.8 230.5,521.98 262.9,527.81 295,533.3" fill="none" stroke="#d2d2d2" stroke-width="2.2" stroke-linejoin="miter"/>
<polygon points="128.8,529.18 133.3,524.68 137.8,529.18 133.3,533.68" fill="#d2d2d2"/>
<polygon points="161.2,494.41 165.7,489.91 170.2,494.41 165.7,498.91" fill="#d2d2d2"/>
<polygon points="193.5,505.8 198,501.3 202.5,505.8 198,510.3" fill="#d2d2d2"/>
<polygon points="226,521.98 230.5,517.48 235,521.98 230.5,526.48" fill="#d2d2d2"/>
<polygon points="258.4,527.81 262.9,523.31 267.4,527.81 262.9,532.31" fill="#d2d2d2"/>
<polygon points="290.5,533.3 295,528.8 299.5,533.3 295,537.8" fill="#d2d2d2"/>
<line x1="133.3" y1="535.7" x2="133.3" y2="523.01" stroke="#444" stroke-width="1.2"/>
<line x1="130.55" y1="535.7" x2="136.05" y2="535.7" stroke="#444" stroke-width="1.2"/>
<line x1="130.55" y1="523.01" x2="136.05" y2="523.01" stroke="#444" stroke-width="1.2"/>
<line x1="165.7" y1="469.86" x2="165.7" y2="466.09" stroke="#444" stroke-width="1.2"/>
<line x1="162.95" y1="469.86" x2="168.45" y2="469.86" stroke="#444" stroke-width="1.2"/>
<line x1="162.95" y1="466.09" x2="168.45" y2="466.09" stroke="#444" stroke-width="1.2"/>
<line x1="198" y1="502.44" x2="198" y2="485.98" stroke="#444" stroke-width="1.2"/>
<line x1="195.25" y1="502.44" x2="200.75" y2="502.44" stroke="#444" stroke-width="1.2"/>
<line x1="195.25" y1="485.98" x2="200.75" y2="485.98" stroke="#444" stroke-width="1.2"/>
<line x1="230.5" y1="523.01" x2="230.5" y2="517.87" stroke="#444" stroke-width="1.2"/>
<line x1="227.75" y1="523.01" x2="233.25" y2="523.01" stroke="#444" stroke-width="1.2"/>
<line x1="227.75" y1="517.87" x2="233.25" y2="517.87" stroke="#444" stroke-width="1.2"/>
<line x1="262.9" y1="541.18" x2="262.9" y2="537.75" stroke="#444" stroke-width="1.2"/>
<line x1="260.15" y1="541.18" x2="265.65" y2="541.18" stroke="#444" stroke-width="1.2"/>
<line x1="260.15" y1="537.75" x2="265.65" y2="537.75" stroke="#444" stroke-width="1.2"/>
<line x1="295" y1="545.64" x2="295" y2="542.55" stroke="#444" stroke-width="1.2"/>
<line x1="292.25" y1="545.64" x2="297.75" y2="545.64" stroke="#444" stroke-width="1.2"/>
<line x1="292.25" y1="542.55" x2="297.75" y2="542.55" stroke="#444" stroke-width="1.2"/>
<polyline points="133.3,527.4 165.7,467.6 198,496.5 230.5,520.71 262.9,539.4 295,544.1" fill="none" stroke="#333333" stroke-width="2.2" stroke-linejoin="miter"/>
<rect x="128.6" y="522.8" width="9.4" height="9.2" fill="#333333"/>
<rect x="161" y="463" width="9.4" height="9.2" fill="#333333"/>
<rect x="193.3" y="491.9" width="9.4" height="9.2" fill="#333333"/>
<rect x="225.8" y="516.11" width="9.4" height="9.2" fill="#333333"/>
<rect x="258.2" y="534.8" width="9.4" height="9.2" fill="#333333"/>
<rect x="290.3" y="539.5" width="9.4" height="9.2" fill="#333333"/>
<path d="M165.7,455.9L165.7,453.5M165.7,455.9L167.98,455.16M165.7,455.9L167.11,457.84M165.7,455.9L164.29,457.84M165.7,455.9L163.42,455.16" stroke="#1c1c1c" stroke-width="1.3" stroke-linecap="round" fill="none"/>
<line x1="216.9" y1="461.8" x2="241.2" y2="461.8" stroke="#d2d2d2" stroke-width="2.2"/>
<polygon points="223.9,461.8 228.9,456.8 233.9,461.8 228.9,466.8" fill="#d2d2d2"/>
<line x1="216.9" y1="481.9" x2="241.2" y2="481.9" stroke="#333333" stroke-width="2.2"/>
<rect x="225.8" y="477.8" width="7.2" height="7.6" fill="#333333"/>
<text x="248.1" y="466" font-size="12" fill="#1e1e1e" stroke="#1e1e1e" stroke-width="0.33" textLength="51.4" lengthAdjust="spacingAndGlyphs">WT- PBS</text>
<text x="248.1" y="485.4" font-size="12" fill="#1e1e1e" stroke="#1e1e1e" stroke-width="0.33" textLength="50" lengthAdjust="spacingAndGlyphs">WT- LPS</text>
<text x="362.9" y="450.5" font-size="16" font-weight="bold" fill="#1c1c1c" stroke="#1c1c1c" stroke-width="0.45" textLength="12.3" lengthAdjust="spacingAndGlyphs">G</text>
<line x1="417.3" y1="451.2" x2="417.3" y2="574.5" stroke="#858585" stroke-width="1.5"/>
<line x1="417.3" y1="570.7" x2="592.2" y2="570.7" stroke="#858585" stroke-width="1.5"/>
<line x1="452.3" y1="570.7" x2="452.3" y2="574.2" stroke="#858585" stroke-width="1.5"/>
<line x1="487.3" y1="570.7" x2="487.3" y2="574.2" stroke="#858585" stroke-width="1.5"/>
<line x1="522.6" y1="570.7" x2="522.6" y2="574.2" stroke="#858585" stroke-width="1.5"/>
<line x1="557.4" y1="570.7" x2="557.4" y2="574.2" stroke="#858585" stroke-width="1.5"/>
<line x1="592.2" y1="570.7" x2="592.2" y2="574.2" stroke="#858585" stroke-width="1.5"/>
<line x1="413.8" y1="570.69" x2="417.3" y2="570.69" stroke="#858585" stroke-width="1.5"/>
<text x="393.78" y="574.69" font-size="12.5" fill="#1e1e1e" stroke="#1e1e1e" stroke-width="0.33" textLength="14.32" lengthAdjust="spacingAndGlyphs">50</text>
<line x1="413.8" y1="550.77" x2="417.3" y2="550.77" stroke="#858585" stroke-width="1.5"/>
<text x="386.62" y="554.77" font-size="12.5" fill="#1e1e1e" stroke="#1e1e1e" stroke-width="0.33" textLength="21.48" lengthAdjust="spacingAndGlyphs">100</text>
<line x1="413.8" y1="530.86" x2="417.3" y2="530.86" stroke="#858585" stroke-width="1.5"/>
<text x="386.62" y="534.86" font-size="12.5" fill="#1e1e1e" stroke="#1e1e1e" stroke-width="0.33" textLength="21.48" lengthAdjust="spacingAndGlyphs">150</text>
<line x1="413.8" y1="510.94" x2="417.3" y2="510.94" stroke="#858585" stroke-width="1.5"/>
<text x="386.62" y="514.94" font-size="12.5" fill="#1e1e1e" stroke="#1e1e1e" stroke-width="0.33" textLength="21.48" lengthAdjust="spacingAndGlyphs">200</text>
<line x1="413.8" y1="491.03" x2="417.3" y2="491.03" stroke="#858585" stroke-width="1.5"/>
<text x="386.62" y="495.03" font-size="12.5" fill="#1e1e1e" stroke="#1e1e1e" stroke-width="0.33" textLength="21.48" lengthAdjust="spacingAndGlyphs">250</text>
<line x1="413.8" y1="471.12" x2="417.3" y2="471.12" stroke="#858585" stroke-width="1.5"/>
<text x="386.62" y="475.12" font-size="12.5" fill="#1e1e1e" stroke="#1e1e1e" stroke-width="0.33" textLength="21.48" lengthAdjust="spacingAndGlyphs">300</text>
<line x1="413.8" y1="451.2" x2="417.3" y2="451.2" stroke="#858585" stroke-width="1.5"/>
<text x="386.62" y="455.2" font-size="12.5" fill="#1e1e1e" stroke="#1e1e1e" stroke-width="0.33" textLength="21.48" lengthAdjust="spacingAndGlyphs">350</text>
<text x="413.76" y="589.6" font-size="12" fill="#1e1e1e" stroke="#1e1e1e" stroke-width="0.33" textLength="7.07" lengthAdjust="spacingAndGlyphs">0</text>
<text x="445.23" y="589.6" font-size="12" fill="#1e1e1e" stroke="#1e1e1e" stroke-width="0.33" textLength="14.15" lengthAdjust="spacingAndGlyphs">15</text>
<text x="480.23" y="589.6" font-size="12" fill="#1e1e1e" stroke="#1e1e1e" stroke-width="0.33" textLength="14.15" lengthAdjust="spacingAndGlyphs">30</text>
<text x="515.53" y="589.6" font-size="12" fill="#1e1e1e" stroke="#1e1e1e" stroke-width="0.33" textLength="14.15" lengthAdjust="spacingAndGlyphs">60</text>
<text x="550.33" y="589.6" font-size="12" fill="#1e1e1e" stroke="#1e1e1e" stroke-width="0.33" textLength="14.15" lengthAdjust="spacingAndGlyphs">90</text>
<text x="581.59" y="589.6" font-size="12" fill="#1e1e1e" stroke="#1e1e1e" stroke-width="0.33" textLength="21.22" lengthAdjust="spacingAndGlyphs">120</text>
<text x="468.1" y="608.7" font-size="12" font-weight="bold" fill="#1c1c1c" stroke="#1c1c1c" stroke-width="0.2" textLength="73.2" lengthAdjust="spacingAndGlyphs">Times (min)</text>
<text transform="translate(374.3,560) rotate(-90)" x="0" y="0" font-size="12.5" font-weight="bold" fill="#1c1c1c" stroke="#1c1c1c" stroke-width="0.2" textLength="99.9" lengthAdjust="spacingAndGlyphs">Glucose (mg/dl)</text>
<line x1="417.3" y1="529.27" x2="417.3" y2="516.92" stroke="#6a6a6a" stroke-width="1.2"/>
<line x1="414.55" y1="529.27" x2="420.05" y2="529.27" stroke="#6a6a6a" stroke-width="1.2"/>
<line x1="414.55" y1="516.92" x2="420.05" y2="516.92" stroke="#6a6a6a" stroke-width="1.2"/>
<line x1="452.3" y1="477.69" x2="452.3" y2="467.13" stroke="#6a6a6a" stroke-width="1.2"/>
<line x1="449.55" y1="477.69" x2="455.05" y2="477.69" stroke="#6a6a6a" stroke-width="1.2"/>
<line x1="449.55" y1="467.13" x2="455.05" y2="467.13" stroke="#6a6a6a" stroke-width="1.2"/>
<line x1="487.3" y1="506.28" x2="487.3" y2="482.27" stroke="#6a6a6a" stroke-width="1.2"/>
<line x1="484.55" y1="506.28" x2="490.05" y2="506.28" stroke="#6a6a6a" stroke-width="1.2"/>
<line x1="484.55" y1="482.27" x2="490.05" y2="482.27" stroke="#6a6a6a" stroke-width="1.2"/>
<line x1="522.6" y1="521.3" x2="522.6" y2="515.33" stroke="#6a6a6a" stroke-width="1.2"/>
<line x1="519.85" y1="521.3" x2="525.35" y2="521.3" stroke="#6a6a6a" stroke-width="1.2"/>
<line x1="519.85" y1="515.33" x2="525.35" y2="515.33" stroke="#6a6a6a" stroke-width="1.2"/>
<line x1="557.4" y1="538.83" x2="557.4" y2="525.88" stroke="#6a6a6a" stroke-width="1.2"/>
<line x1="554.65" y1="538.83" x2="560.15" y2="538.83" stroke="#6a6a6a" stroke-width="1.2"/>
<line x1="554.65" y1="525.88" x2="560.15" y2="525.88" stroke="#6a6a6a" stroke-width="1.2"/>
<line x1="592.2" y1="550.77" x2="592.2" y2="538.31" stroke="#6a6a6a" stroke-width="1.2"/>
<line x1="589.45" y1="550.77" x2="594.95" y2="550.77" stroke="#6a6a6a" stroke-width="1.2"/>
<line x1="589.45" y1="538.31" x2="594.95" y2="538.31" stroke="#6a6a6a" stroke-width="1.2"/>
<polyline points="417.3,522.89 452.3,471 487.3,494.81 522.6,518.11 557.4,532.25 592.2,545" fill="none" stroke="#d2d2d2" stroke-width="2.2" stroke-linejoin="miter"/>
<polygon points="412.8,522.89 417.3,518.39 421.8,522.89 417.3,527.39" fill="#d2d2d2"/>
<polygon points="447.8,471 452.3,466.5 456.8,471 452.3,475.5" fill="#d2d2d2"/>
<polygon points="482.8,494.81 487.3,490.31 491.8,494.81 487.3,499.31" fill="#d2d2d2"/>
<polygon points="518.1,518.11 522.6,513.61 527.1,518.11 522.6,522.61" fill="#d2d2d2"/>
<polygon points="552.9,532.25 557.4,527.75 561.9,532.25 557.4,536.75" fill="#d2d2d2"/>
<polygon points="587.7,545 592.2,540.5 596.7,545 592.2,549.5" fill="#d2d2d2"/>
<line x1="417.3" y1="524.49" x2="417.3" y2="517.32" stroke="#444" stroke-width="1.2"/>
<line x1="414.55" y1="524.49" x2="420.05" y2="524.49" stroke="#444" stroke-width="1.2"/>
<line x1="414.55" y1="517.32" x2="420.05" y2="517.32" stroke="#444" stroke-width="1.2"/>
<line x1="452.3" y1="465.14" x2="452.3" y2="459.96" stroke="#444" stroke-width="1.2"/>
<line x1="449.55" y1="465.14" x2="455.05" y2="465.14" stroke="#444" stroke-width="1.2"/>
<line x1="449.55" y1="459.96" x2="455.05" y2="459.96" stroke="#444" stroke-width="1.2"/>
<line x1="487.3" y1="492.62" x2="487.3" y2="479.88" stroke="#444" stroke-width="1.2"/>
<line x1="484.55" y1="492.62" x2="490.05" y2="492.62" stroke="#444" stroke-width="1.2"/>
<line x1="484.55" y1="479.88" x2="490.05" y2="479.88" stroke="#444" stroke-width="1.2"/>
<line x1="522.6" y1="529.39" x2="522.6" y2="510.31" stroke="#444" stroke-width="1.2"/>
<line x1="519.85" y1="529.39" x2="525.35" y2="529.39" stroke="#444" stroke-width="1.2"/>
<line x1="519.85" y1="510.31" x2="525.35" y2="510.31" stroke="#444" stroke-width="1.2"/>
<line x1="557.4" y1="544.8" x2="557.4" y2="540.42" stroke="#444" stroke-width="1.2"/>
<line x1="554.65" y1="544.8" x2="560.15" y2="544.8" stroke="#444" stroke-width="1.2"/>
<line x1="554.65" y1="540.42" x2="560.15" y2="540.42" stroke="#444" stroke-width="1.2"/>
<line x1="592.2" y1="558.34" x2="592.2" y2="554.36" stroke="#444" stroke-width="1.2"/>
<line x1="589.45" y1="558.34" x2="594.95" y2="558.34" stroke="#444" stroke-width="1.2"/>
<line x1="589.45" y1="554.36" x2="594.95" y2="554.36" stroke="#444" stroke-width="1.2"/>
<polyline points="417.3,520.98 452.3,462.39 487.3,489.72 522.6,519.63 557.4,542.41 592.2,556.23" fill="none" stroke="#333333" stroke-width="2.2" stroke-linejoin="miter"/>
<rect x="412.6" y="516.38" width="9.4" height="9.2" fill="#333333"/>
<rect x="447.6" y="457.79" width="9.4" height="9.2" fill="#333333"/>
<rect x="482.6" y="485.12" width="9.4" height="9.2" fill="#333333"/>
<rect x="517.9" y="515.03" width="9.4" height="9.2" fill="#333333"/>
<rect x="552.7" y="537.81" width="9.4" height="9.2" fill="#333333"/>
<rect x="587.5" y="551.63" width="9.4" height="9.2" fill="#333333"/>
<line x1="509.8" y1="457" x2="534.3" y2="457" stroke="#d2d2d2" stroke-width="2.2"/>
<polygon points="516.2,457 521.2,452 526.2,457 521.2,462" fill="#d2d2d2"/>
<line x1="509.8" y1="473.6" x2="534.3" y2="473.6" stroke="#333333" stroke-width="2.2"/>
<rect x="517.8" y="469.6" width="7.2" height="7.6" fill="#333333"/>
<text x="536.6" y="461.2" font-size="12" fill="#1e1e1e" stroke="#1e1e1e" stroke-width="0.33" textLength="54.7" lengthAdjust="spacingAndGlyphs">Het- PBS</text>
<text x="536.6" y="477.6" font-size="12" fill="#1e1e1e" stroke="#1e1e1e" stroke-width="0.33" textLength="53.4" lengthAdjust="spacingAndGlyphs">Het- LPS</text>
</svg>
</body></html>
